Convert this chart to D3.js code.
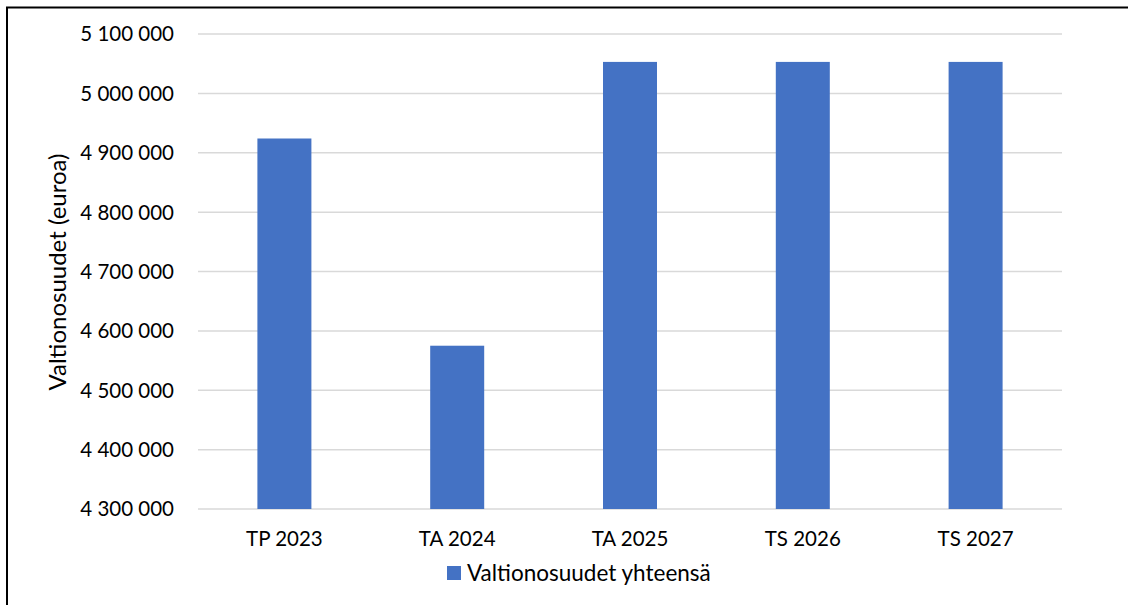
<!DOCTYPE html>
<html>
<head>
<meta charset="utf-8">
<script src="https://cdn.jsdelivr.net/npm/d3@7"></script>
<style>
  body { margin: 0; background: #fff; }
  svg text { font-family: Lato, "Noto Sans", sans-serif; fill: #000; }
</style>
</head>
<body>
<svg id="chart" width="1128" height="605"></svg>
<script>
var categories = ["TP 2023", "TA 2024", "TA 2025", "TS 2026", "TS 2027"];
var values = [4924000, 4575000, 5053000, 5053000, 5053000];
var yTicks = [4300000, 4400000, 4500000, 4600000, 4700000, 4800000, 4900000, 5000000, 5100000];
var seriesName = "Valtionosuudet yhteensä";
var yTitle = "Valtionosuudet (euroa)";

var svg = d3.select('#chart');

// chart border (right and bottom edges fall outside the picture)
svg.append('rect')
  .attr('x', 7).attr('y', 7.5)
  .attr('width', 1140).attr('height', 620)
  .attr('fill', 'none').attr('stroke', '#000').attr('stroke-width', 2);

var plotLeft = 198, plotRight = 1062, plotTop = 34, plotBottom = 509;

var x = d3.scaleBand().domain(categories).range([plotLeft, plotRight]).paddingInner(0.6875).paddingOuter(0.34375);
var y = d3.scaleLinear().domain([4300000, 5100000]).range([plotBottom, plotTop]);

var fmt = function (d) { return d3.format(',')(d).replace(/,/g, ' '); };

// gridlines
svg.append('g').selectAll('line')
  .data(yTicks)
  .enter()
  .append('line')
  .attr('x1', plotLeft).attr('x2', plotRight)
  .attr('y1', function (d) { return y(d); })
  .attr('y2', function (d) { return y(d); })
  .attr('stroke', '#d9d9d9').attr('stroke-width', 1.5);

// y axis labels
var yAxis = svg.append('g')
  .attr('transform', 'translate(' + (plotLeft - 24) + ',0)')
  .call(d3.axisLeft(y).tickValues(yTicks).tickFormat(fmt).tickSize(0).tickPadding(0));
yAxis.select('.domain').remove();
yAxis.selectAll('text').attr('font-size', 20.5).attr('dy', '0.34em');

// bars
svg.append('g').selectAll('rect')
  .data(values)
  .enter()
  .append('rect')
  .attr('x', function (d, i) { return x(categories[i]); })
  .attr('width', x.bandwidth())
  .attr('y', function (d) { return y(d); })
  .attr('height', function (d) { return plotBottom - y(d); })
  .attr('fill', '#4472c4');

// x axis labels
var xAxis = svg.append('g')
  .attr('transform', 'translate(0,' + plotBottom + ')')
  .call(d3.axisBottom(x).tickSize(0).tickPadding(22));
xAxis.select('.domain').remove();
xAxis.selectAll('text').attr('font-size', 20.5);

// y title
svg.append('text')
  .attr('transform', 'translate(66,272) rotate(-90)')
  .attr('text-anchor', 'middle')
  .attr('font-size', 24)
  .text(yTitle);

// legend
var legend = svg.append('g').attr('transform', 'translate(447,566)');
legend.append('rect').attr('width', 14).attr('height', 14).attr('fill', '#4472c4');
legend.append('text').attr('x', 20).attr('y', 15).attr('font-size', 22.5).text(seriesName);
</script>
</body>
</html>
